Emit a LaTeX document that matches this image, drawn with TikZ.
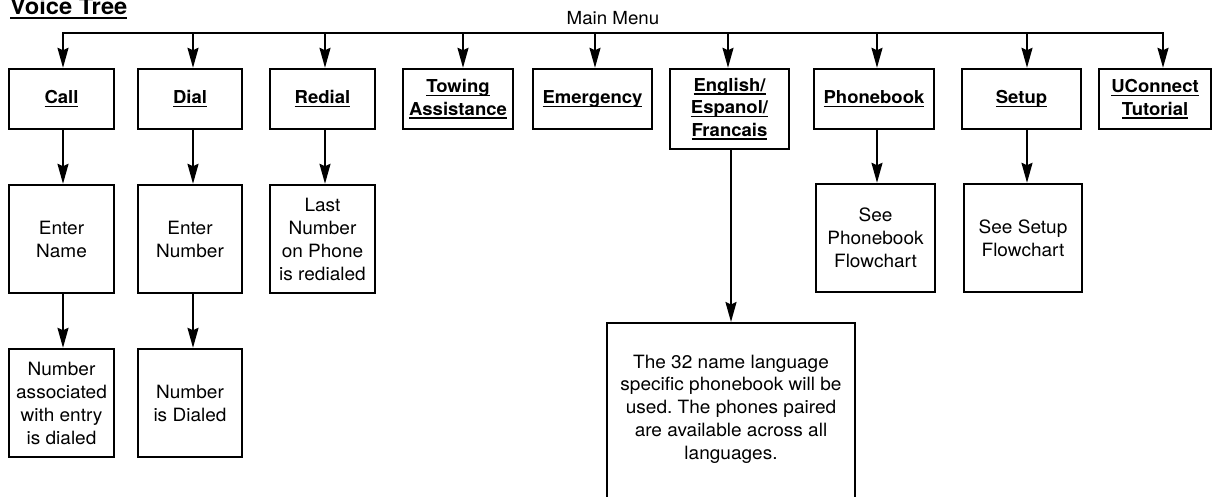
\documentclass[tikz,border=0pt]{standalone}
\usepackage{fontspec}
\setmainfont{TeX Gyre Heros}[FakeStretch=1.04]
\usetikzlibrary{arrows.meta}
\frenchspacing
\newcommand\undl[1]{\setbox0=\hbox{#1}\rlap{\rule[-3.6pt]{\wd0}{1.6pt}}\box0}
\tikzset{
  boxnode/.style={draw, line width=2.4pt, inner sep=0pt, align=center,
    font=\fontsize{18.3}{23}\selectfont},
  hdr/.style={boxnode, font=\fontsize{17.8}{22.5}\selectfont\bfseries},
  arr/.style={line width=2pt, -{Stealth[length=20pt,width=11pt,inset=2.5pt]}},
  arrboth/.style={line width=2pt, {Stealth[length=20pt,width=11pt,inset=2.5pt]}-{Stealth[length=20pt,width=11pt,inset=2.5pt]}},
}
\begin{document}
\begin{tikzpicture}[x=1pt,y=-1pt]
\useasboundingbox (0,0) rectangle (1212,497);
\clip (0,0) rectangle (1212,497);
% title and main menu
\node[anchor=base west, inner sep=0pt, font=\fontsize{22.8}{26}\selectfont\bfseries] (title) at (10,15) {\undl{Voice Tree}};
\node[anchor=base, inner sep=0pt, font=\fontsize{18}{20}\selectfont] (mainmenu) at (613,25) {Main Menu};
% row 1
\node[hdr, minimum width=105, minimum height=60] (call) at (61.5,99) {\undl{Call}};
\node[hdr, minimum width=104, minimum height=60] (dial) at (190,99) {\undl{Dial}};
\node[hdr, minimum width=105, minimum height=60] (redial) at (322.5,99) {\undl{Redial}};
\node[hdr, minimum width=110, minimum height=60] (towing) at (458,99) {\undl{Towing}\\\undl{Assistance}};
\node[hdr, minimum width=119, minimum height=60] (emerg) at (592.5,99) {\undl{Emergency}};
\node[hdr, minimum width=119, minimum height=80] (lang) at (729.5,109) {\undl{English/}\\\undl{Espanol/}\\\undl{Francais}};
\node[hdr, minimum width=120, minimum height=60] (phone) at (874,99) {\undl{Phonebook}};
\node[hdr, minimum width=119, minimum height=60] (setup) at (1021.5,99) {\undl{Setup}};
\node[hdr, minimum width=112, minimum height=60] (ucon) at (1155,99) {\undl{UConnect}\\\undl{Tutorial}};
% row 2
\node[boxnode, minimum width=105, minimum height=108] (name) at (61.5,239) {Enter\\Name};
\node[boxnode, minimum width=104, minimum height=108] (number) at (190,239) {Enter\\Number};
\node[boxnode, minimum width=105, minimum height=108] (last) at (322.5,239) {Last\\Number\\on Phone\\is redialed};
\node[boxnode, minimum width=119, minimum height=108] (pbf) at (875.5,238) {See\\Phonebook\\Flowchart};
\node[boxnode, minimum width=118, minimum height=108] (sf) at (1023,238) {See Setup\\Flowchart};
% row 3
\node[boxnode, minimum width=105, minimum height=108] (assoc) at (61.5,403) {Number\\associated\\with entry\\is dialed};
\node[boxnode, minimum width=104, minimum height=108] (dialed) at (190,403) {Number\\is Dialed};
% big box
\node[boxnode, minimum width=248, minimum height=200, anchor=north] (big) at (731,322) {};
\node[inner sep=0pt, align=center, font=\fontsize{18.3}{22.7}\selectfont] (bigtxt) at (731,409)
  {The 32 name language\\specific phonebook will be\\used. The phones paired\\are available across all\\languages.};
% bus
\coordinate (b1) at (63,33);
\coordinate (b2) at (193,33);
\coordinate (b3) at (325,33);
\coordinate (b4) at (463,33);
\coordinate (b5) at (595,33);
\coordinate (b6) at (728,33);
\coordinate (b7) at (877,33);
\coordinate (b8) at (1027,33);
\coordinate (b9) at (1163,33);
\coordinate (c6) at (731,33);
\draw[arrboth] (call.north -| b1) -- (b1) -- (b9) -- (ucon.north -| b9);
\draw[arr] (b2) -- (dial.north -| b2);
\draw[arr] (b3) -- (redial.north -| b3);
\draw[arr] (b4) -- (towing.north -| b4);
\draw[arr] (b5) -- (emerg.north -| b5);
\draw[arr] (b6) -- (lang.north -| b6);
\draw[arr] (b7) -- (phone.north -| b7);
\draw[arr] (b8) -- (setup.north -| b8);
% columns
\draw[arr] (call.south -| b1) -- (name.north -| b1);
\draw[arr] (name.south -| b1) -- (assoc.north -| b1);
\draw[arr] (dial.south -| b2) -- (number.north -| b2);
\draw[arr] (number.south -| b2) -- (dialed.north -| b2);
\draw[arr] (redial.south -| b3) -- (last.north -| b3);
\draw[arr] (lang.south -| c6) -- (big.north -| c6);
\draw[arr] (phone.south -| b7) -- (pbf.north -| b7);
\draw[arr] (setup.south -| b8) -- (sf.north -| b8);
\end{tikzpicture}
\end{document}
